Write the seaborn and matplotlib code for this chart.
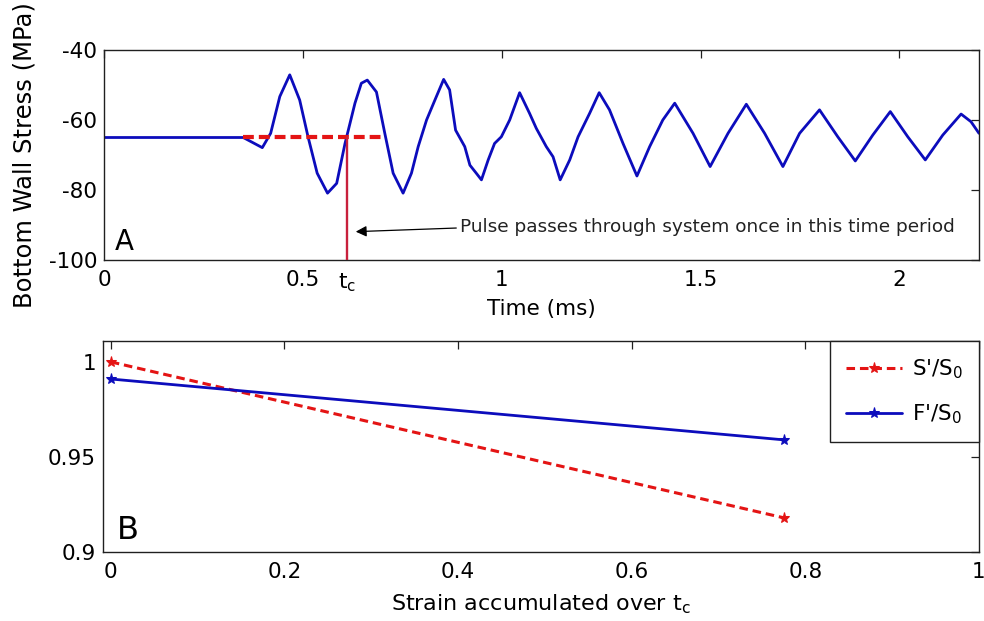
import matplotlib
matplotlib.use("Agg")
import matplotlib.pyplot as plt
import seaborn as sns
import pandas as pd

# ---- Panel A: bottom wall stress history ----
time_ms = [0.000, 0.350, 0.398, 0.419, 0.442, 0.467, 0.492, 0.513, 0.536, 0.562,
           0.585, 0.606, 0.631, 0.647, 0.662, 0.685, 0.706, 0.727, 0.752, 0.773,
           0.790, 0.811, 0.832, 0.854, 0.869, 0.884, 0.907, 0.920, 0.936, 0.949,
           0.966, 0.982, 0.999, 1.020, 1.045, 1.070, 1.087, 1.112, 1.129, 1.147,
           1.171, 1.192, 1.221, 1.245, 1.271, 1.305, 1.340, 1.372, 1.405, 1.435,
           1.481, 1.524, 1.569, 1.615, 1.661, 1.707, 1.749, 1.799, 1.845, 1.889,
           1.933, 1.977, 2.021, 2.065, 2.109, 2.155, 2.180, 2.200]
stress_mpa = [-65.0, -65.0, -67.9, -63.8, -53.3, -47.1, -54.3, -64.8, -75.2, -80.9,
              -78.1, -66.7, -55.2, -49.5, -48.6, -52.0, -63.8, -75.2, -80.9, -75.2,
              -67.6, -60.0, -54.3, -48.4, -51.4, -62.9, -67.6, -72.9, -75.2, -77.1,
              -71.4, -66.7, -64.8, -60.0, -52.2, -58.1, -62.4, -67.6, -70.5, -77.1,
              -71.4, -64.8, -58.1, -52.2, -57.1, -66.7, -76.0, -67.6, -60.0, -55.2,
              -63.8, -73.3, -63.8, -55.5, -63.8, -73.3, -63.8, -57.1, -64.8, -71.7,
              -64.3, -57.6, -64.8, -71.4, -64.3, -58.3, -60.5, -63.8]

pulse_window = [0.35, 0.70]   # ms, horizontal dashed marker
pulse_level = -65.0           # MPa
t_c = 0.61                    # ms

time_ticks = [0, 0.5, 1, 1.5, 2]
time_ticklabels = ["0", "0.5", "1", "1.5", "2"]
stress_ticks = [-100, -80, -60, -40]
stress_ticklabels = ["-100", "-80", "-60", "-40"]

# ---- Panel B: normalised stiffness vs strain ----
strain = [0.0, 0.775]
s_ratio = [1.000, 0.918]
f_ratio = [0.991, 0.959]

strain_ticks = [0, 0.2, 0.4, 0.6, 0.8, 1]
strain_ticklabels = ["0", "0.2", "0.4", "0.6", "0.8", "1"]
ratio_ticks = [0.9, 0.95, 1.0]
ratio_ticklabels = ["0.9", "0.95", "1"]

sns.set_style("white")
plt.rcParams["font.family"] = ["DejaVu Sans"]
plt.rcParams["mathtext.default"] = "regular"
plt.rcParams["axes.unicode_minus"] = False
plt.rcParams["text.color"] = "black"
plt.rcParams["axes.labelcolor"] = "black"

BLUE = "#0c0cbc"
RED = "#e41414"
CRIMSON = "#c8203c"
TICK_FS = 15.5

fig = plt.figure(figsize=(9.84, 6.21), dpi=100)
ax1 = fig.add_axes([0.1057, 0.5813, 0.8892, 0.3382])
ax2 = fig.add_axes([0.1047, 0.1111, 0.8902, 0.3398])


def style_axes(ax):
    for sp in ax.spines.values():
        sp.set_color("#202020")
        sp.set_linewidth(1.0)
        sp.set_visible(True)
    ax.tick_params(direction="in", length=6, width=0.9, color="#202020",
                   top=True, right=True, labelsize=TICK_FS,
                   labelcolor="black")
    ax.tick_params(axis="x", pad=7)
    ax.tick_params(axis="y", pad=5)


# Panel A
stress_df = pd.DataFrame({"t": time_ms, "s": stress_mpa})
sns.lineplot(data=stress_df, x="t", y="s", ax=ax1, color=BLUE, lw=2.0,
             sort=False, estimator=None, zorder=2)
window_df = pd.DataFrame({"t": pulse_window, "s": [pulse_level, pulse_level]})
sns.lineplot(data=window_df, x="t", y="s", ax=ax1, color=RED, lw=3.0,
             estimator=None, zorder=3)
ax1.lines[-1].set_dashes((2.6, 1.2))
ax1.plot([t_c, t_c], [pulse_level, -100], color=CRIMSON, lw=1.7, zorder=3)

ax1.set_xlim(0, 2.2)
ax1.set_ylim(-100, -40)
ax1.set_xticks(time_ticks, time_ticklabels)
ax1.set_yticks(stress_ticks, stress_ticklabels)
style_axes(ax1)
ax1.set_xlabel("Time (ms)", fontsize=15.5, labelpad=7)
ax1.set_ylabel("Bottom Wall Stress (MPa)", fontsize=17.5, labelpad=9)
ax1.text(t_c, -0.055, "t$_c$", transform=ax1.get_xaxis_transform(),
         ha="center", va="top", fontsize=TICK_FS)
ax1.text(0.028, -97.2, "A", fontsize=20, ha="left", va="baseline")
ax1.annotate("Pulse passes through system once in this time period",
             xy=(0.633, -91.9), xytext=(0.894, -92.0),
             ha="left", va="baseline", fontsize=13.3, color="#222222",
             arrowprops=dict(arrowstyle="-|>", color="black", lw=0.9,
                             mutation_scale=16, relpos=(0, 0.45),
                             shrinkA=0, shrinkB=0))

# Panel B
ratio_df = pd.DataFrame({"strain": strain * 2,
                         "ratio": s_ratio + f_ratio,
                         "series": ["S'/S$_0$"] * 2 + ["F'/S$_0$"] * 2})
sns.lineplot(data=ratio_df[ratio_df.series == "S'/S$_0$"], x="strain", y="ratio",
             ax=ax2, color=RED, lw=2.2, marker="*", markersize=8,
             markeredgecolor=RED, label="S'/S$_0$", estimator=None)
ax2.lines[-1].set_dashes((2.8, 1.6))
sns.lineplot(data=ratio_df[ratio_df.series == "F'/S$_0$"], x="strain", y="ratio",
             ax=ax2, color=BLUE, lw=2.0, marker="*", markersize=8,
             markeredgecolor=BLUE, label="F'/S$_0$", estimator=None)

ax2.set_xlim(-0.009, 1.0)
ax2.set_ylim(0.9, 1.011)
ax2.set_xticks(strain_ticks, strain_ticklabels)
ax2.set_yticks(ratio_ticks, ratio_ticklabels)
style_axes(ax2)
ax2.set_xlabel("Strain accumulated over t$_c$", fontsize=16, labelpad=8)
ax2.set_ylabel("")
ax2.text(0.007, 0.9068, "B", fontsize=23, ha="left", va="baseline")
leg = ax2.legend(loc="upper right", borderaxespad=0, fancybox=False,
                 framealpha=1, edgecolor="#202020", fontsize=TICK_FS,
                 handlelength=2.6, handletextpad=0.45, borderpad=0.75,
                 labelspacing=1.0)
leg.get_frame().set_linewidth(1.0)

fig.savefig("out.png", dpi=100)
